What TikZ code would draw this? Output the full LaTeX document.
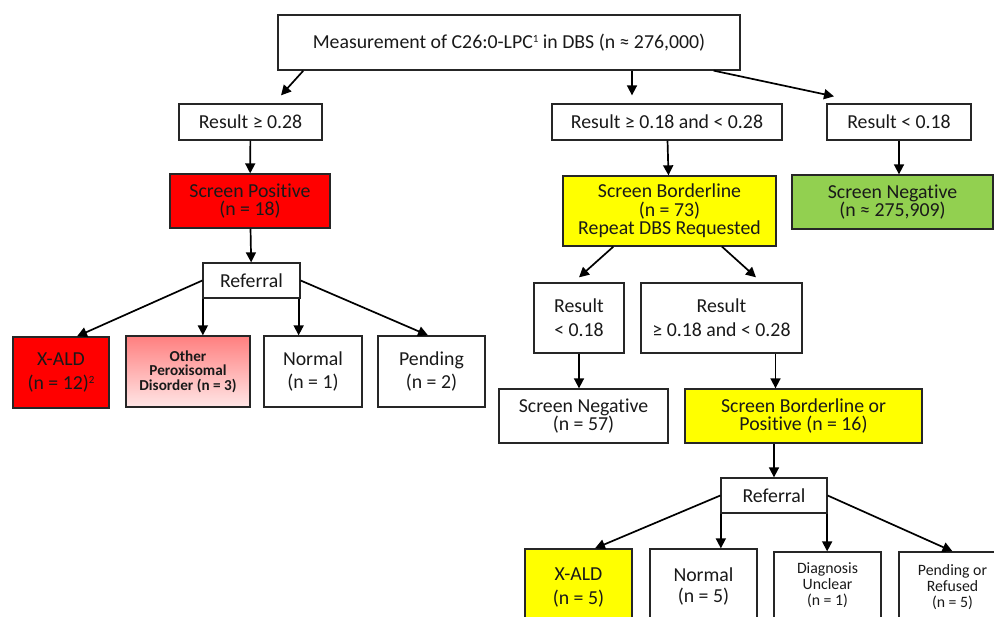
\documentclass[tikz,border=0pt]{standalone}
\usepackage{fontspec}
\setmainfont{Carlito}[Ligatures={NoCommon}]
\usetikzlibrary{arrows.meta}
\definecolor{scrred}{HTML}{FF0000}
\definecolor{scryellow}{HTML}{FFFF00}
\definecolor{scrgreen}{HTML}{92D050}
\definecolor{pinktop}{HTML}{FF7F7F}
\definecolor{pinkbot}{HTML}{FFE6E6}
\definecolor{boxline}{HTML}{262626}
\newcommand{\supnote}[1]{\raisebox{0.6ex}{\fontsize{11}{11}\selectfont #1}}
\tikzset{
  box/.style={draw=boxline, line width=1.3pt, align=center, inner sep=2pt, text=black!90,
    font=\fontsize{19.8}{18.5}\selectfont},
  loosebox/.style={box, font=\fontsize{19.8}{24}\selectfont},
  smallbox/.style={box, font=\fontsize{15.8}{16}\selectfont},
  link/.style={->, line width=1.7pt},
}
\begin{document}
\begin{tikzpicture}[x=1pt, y=-1pt, >={Triangle[length=10pt,width=10pt]}]
  \useasboundingbox (0,0) rectangle (994,617);
  \clip (0,0) rectangle (994,617);
  % top
  \node[box, minimum width=462pt, minimum height=55pt] (top) at (509,42.5)
    {Measurement of C26:0-LPC\supnote{1} in DBS (n ≈ 276,000)};
  % left branch
  \node[box, minimum width=143pt, minimum height=36pt] (res28) at (250.5,122) {Result ≥ 0.28};
  \node[box, fill=scrred, minimum width=160pt, minimum height=54pt] (pos) at (250,201)
    {Screen Positive\\(n = 18)};
  \node[box, minimum width=97pt, minimum height=35pt] (refL) at (251.5,280.5) {Referral};
  \node[loosebox, fill=scrred, minimum width=96pt, minimum height=71pt] (xaldL) at (61,372.5)
    {X-ALD\\(n = 12)\supnote{2}};
  \node[box, top color=pinktop, bottom color=pinkbot, minimum width=124pt, minimum height=71pt,
    font=\fontsize{15.2}{14.5}\selectfont\bfseries] (other) at (188,371.5)
    {Other\\Peroxisomal\\Disorder (n = 3)};
  \node[loosebox, minimum width=98pt, minimum height=71pt] (normL) at (313,371.5) {Normal\\(n = 1)};
  \node[loosebox, minimum width=107pt, minimum height=71pt] (pendL) at (431.5,371.5) {Pending\\(n = 2)};
  % middle branch
  \node[box, minimum width=230pt, minimum height=36pt] (resMid) at (667,122) {Result ≥ 0.18 and < 0.28};
  \node[box, fill=scryellow, minimum width=213pt, minimum height=70pt] (border) at (669.5,211)
    {Screen Borderline\\(n = 73)\\Repeat DBS Requested};
  \node[loosebox, minimum width=90pt, minimum height=70pt] (resA) at (579,318) {Result\\< 0.18};
  \node[loosebox, minimum width=161pt, minimum height=70pt] (resB) at (721.5,318)
    {Result\\≥ 0.18 and < 0.28};
  \node[box, minimum width=169pt, minimum height=54pt] (neg57) at (583.5,416)
    {Screen Negative\\(n = 57)};
  \node[box, fill=scryellow, minimum width=237pt, minimum height=54pt] (bop) at (803.5,416)
    {Screen Borderline or\\Positive (n = 16)};
  \node[box, minimum width=106pt, minimum height=35pt] (refR) at (774,495.5) {Referral};
  \node[loosebox, fill=scryellow, minimum width=107pt, minimum height=78pt] (xaldR) at (578.5,588)
    {X-ALD\\(n = 5)};
  \node[box, font=\fontsize{19.8}{21}\selectfont, minimum width=107pt, minimum height=74pt] (normR)
    at (703.5,586) {Normal\\(n = 5)};
  \node[smallbox, minimum width=107pt, minimum height=66pt] (diag) at (827.5,585)
    {Diagnosis\\Unclear\\(n = 1)};
  \node[smallbox, minimum width=107pt, minimum height=70pt] (pendR) at (952.5,587)
    {Pending or\\Refused\\(n = 5)};
  % right branch
  \node[box, minimum width=144pt, minimum height=36pt] (resLow) at (899,122) {Result < 0.18};
  \node[box, fill=scrgreen, minimum width=201pt, minimum height=54pt] (negG) at (892.5,202)
    {Screen Negative\\(n ≈ 275,909)};
  % connectors
  \draw[link] ([xshift=26pt]top.south west) -- ([xshift=30.5pt,yshift=8pt]res28.north);
  \draw[link] ([xshift=-35pt]resMid.north |- top.south) -- ([xshift=-35pt,yshift=8pt]resMid.north);
  \draw[link] ([xshift=-27pt]top.south east) -- ([xshift=-65pt,yshift=7pt]resLow.north);
  \draw[link] (res28) -- (pos);
  \draw[link] (pos) -- (refL);
  \draw[link] (refL.west) -- ([xshift=16pt]xaldL.north);
  \draw[link] ([xshift=0.5pt]refL.south west) -- ([xshift=0.5pt]refL.south west |- other.north);
  \draw[link] ([xshift=-2pt]refL.south east) -- ([xshift=-2pt]refL.south east |- normL.north);
  \draw[link] (refL.east) -- ([xshift=-3.5pt]pendL.north);
  \draw[link] (resMid) -- (border);
  \draw[link] (resLow.south) -- (resLow.south |- negG.north);
  \draw[link] ([xshift=51pt]border.south west) -- ([yshift=5pt]resA.north);
  \draw[link] ([xshift=52.5pt]border.south) -- ([xshift=34.5pt,yshift=5pt]resB.north);
  \draw[link] (resA.south) -- (resA.south |- neg57.north);
  \draw[link] ([xshift=-28pt]bop.north |- resB.south) -- ([xshift=-28pt]bop.north);
  \draw[link] (refR.north |- bop.south) -- (refR.north);
  \draw[link] (refR.west) -- ([xshift=16.5pt]xaldR.north);
  \draw[link] ([xshift=0.5pt]refR.south west) -- ([xshift=0.5pt]refR.south west |- normR.north);
  \draw[link] ([xshift=-0.5pt]refR.south east) -- ([xshift=-0.5pt]refR.south east |- diag.north);
  \draw[link] (refR.east) -- (pendR.north);
\end{tikzpicture}
\end{document}
